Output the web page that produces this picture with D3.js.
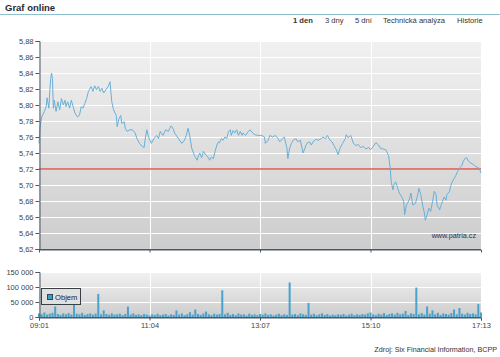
<!DOCTYPE html>
<html><head><meta charset="utf-8">
<script src="https://cdn.jsdelivr.net/npm/d3@7"></script>
<style>
body{margin:0;background:#fff;}
svg{display:block;font-family:"Liberation Sans",Arial,sans-serif;}
</style></head><body>
<svg id="c" width="500" height="357"></svg>
<script>
// minutes after 09:01 and price
const priceMinutes = [0,1,3,6,8,9,11,12,13,14,15,16,17,19,21,23,25,27,29,30,32,34,36,38,40,43,45,47,49,51,53,55,56,58,60,62,64,66,68,70,72,75,77,79,80,81,83,86,87,89,91,92,95,96,98,101,104,107,109,112,115,117,118,120,122,125,128,131,133,135,138,141,144,147,149,151,154,157,159,162,164,166,168,170,173,176,177,179,181,183,186,188,190,192,194,196,198,200,201,203,205,207,209,211,213,214,216,218,220,222,224,226,227,230,233,235,237,240,244,248,251,252,255,257,260,263,266,268,271,273,276,277,279,281,283,286,288,291,292,294,296,298,301,303,305,308,311,314,316,319,321,324,326,329,331,333,335,338,341,342,344,347,350,353,355,358,361,364,367,369,372,375,378,380,383,386,389,391,392,394,395,397,399,401,404,406,407,409,412,414,416,419,421,423,425,427,429,430,432,434,436,438,440,442,443,446,447,449,451,453,454,457,458,460,462,464,466,468,471,472,474,476,478,480,483,485,488,490,492];
const priceValues = [5.752,5.771,5.785,5.792,5.798,5.809,5.796,5.817,5.833,5.840,5.833,5.796,5.806,5.792,5.804,5.794,5.808,5.800,5.806,5.798,5.804,5.796,5.806,5.798,5.790,5.785,5.787,5.798,5.796,5.802,5.808,5.817,5.819,5.823,5.817,5.824,5.819,5.823,5.817,5.821,5.815,5.820,5.823,5.829,5.817,5.804,5.794,5.787,5.773,5.783,5.787,5.777,5.779,5.771,5.767,5.769,5.769,5.765,5.758,5.752,5.748,5.747,5.756,5.769,5.760,5.752,5.758,5.762,5.758,5.767,5.762,5.769,5.767,5.774,5.771,5.765,5.760,5.755,5.752,5.756,5.762,5.771,5.760,5.746,5.737,5.731,5.735,5.740,5.734,5.742,5.737,5.735,5.731,5.735,5.733,5.742,5.750,5.754,5.753,5.758,5.756,5.760,5.758,5.767,5.769,5.762,5.768,5.765,5.769,5.762,5.767,5.762,5.765,5.762,5.767,5.769,5.766,5.763,5.762,5.762,5.760,5.752,5.756,5.762,5.760,5.762,5.758,5.754,5.758,5.760,5.746,5.733,5.746,5.752,5.756,5.758,5.754,5.756,5.750,5.740,5.746,5.752,5.754,5.750,5.754,5.757,5.756,5.758,5.760,5.758,5.762,5.756,5.754,5.748,5.744,5.738,5.746,5.752,5.758,5.763,5.759,5.762,5.752,5.749,5.751,5.747,5.748,5.745,5.747,5.744,5.748,5.753,5.750,5.746,5.745,5.744,5.737,5.721,5.704,5.694,5.700,5.704,5.697,5.690,5.685,5.679,5.663,5.675,5.681,5.690,5.675,5.677,5.685,5.696,5.688,5.675,5.665,5.656,5.663,5.671,5.667,5.679,5.692,5.688,5.675,5.669,5.673,5.679,5.685,5.681,5.688,5.692,5.698,5.704,5.708,5.712,5.717,5.721,5.725,5.729,5.733,5.734,5.730,5.728,5.726,5.724,5.722,5.721,5.715];
// volume every 3 minutes
const volumeStep = 3;
const volumeValues = [12000,9000,15000,8000,11000,14000,35000,10000,7000,12000,
9000,13000,8000,41000,11000,9000,14000,7000,10000,12000,
8000,11000,77000,9000,22000,10000,7000,12000,8000,9000,
11000,6000,10000,35000,8000,12000,7000,9000,6000,10000,
8000,5000,9000,7000,11000,6000,8000,10000,5000,9000,
7000,22000,8000,12000,6000,9000,16000,8000,25000,10000,
7000,12000,18000,9000,6000,11000,8000,10000,89000,9000,
14000,7000,10000,6000,12000,8000,9000,5000,11000,7000,
9000,6000,10000,8000,12000,7000,9000,5000,8000,11000,
6000,9000,7000,115000,8000,10000,6000,12000,9000,7000,
47000,8000,11000,6000,9000,12000,7000,10000,5000,8000,
6000,9000,7000,10000,5000,8000,11000,6000,9000,7000,
10000,8000,12000,15000,9000,6000,11000,8000,13000,7000,
10000,12000,8000,14000,9000,11000,20000,7000,12000,10000,
98000,9000,13000,8000,35000,11000,22000,9000,14000,7000,
12000,10000,8000,13000,25000,9000,30000,11000,8000,14000,
10000,12000,9000,43000,15000];
const timeTickLabels = ["09:01","11:04","13:07","15:10","17:13"];
const timeTickMinutes = [0,123,246,369,492];
const priceTicks = [5.62,5.64,5.66,5.68,5.70,5.72,5.74,5.76,5.78,5.80,5.82,5.84,5.86,5.88];
const volumeTicks = [0,50000,100000,150000];
const referencePrice = 5.72;
const navItems = ["1 den","3 dny","5 dní","Technická analýza","Historie"];

const svg = d3.select("#c");
const L = 39, R = 481;
const x = d3.scaleLinear().domain([0,492]).range([L,R]);
const y = d3.scaleLinear().domain([5.62,5.88]).range([249,41]);
const yv = d3.scaleLinear().domain([0,150000]).range([317,272]);
const fmtP = d => d3.format(".2f")(d).replace(".", ",");
const loc = d3.formatLocale({decimal:",",thousands:"\u00a0",grouping:[3],currency:["",""]});
const fmtV = loc.format(",d");

const defs = svg.append("defs");
const g1 = defs.append("linearGradient").attr("id","bg").attr("x1",0).attr("y1",0).attr("x2",0).attr("y2",1);
g1.append("stop").attr("offset","0%").attr("stop-color","#f1f1f1");
g1.append("stop").attr("offset","100%").attr("stop-color","#cdcdcd");

// header
svg.append("text").attr("x",5).attr("y",11).attr("font-weight","bold").attr("font-size",9.5).attr("fill","#1f2a36").text("Graf online");
svg.append("rect").attr("x",0).attr("y",14).attr("width",500).attr("height",1).attr("fill","#8dbfce");
const navX = [293,325,355,383,457];
svg.selectAll("text.nav").data(navItems).join("text").attr("class","nav")
  .attr("x",(d,i)=>navX[i]).attr("y",23).attr("font-size",7.6)
  .attr("font-weight",(d,i)=>i===0?"bold":"normal").attr("fill","#333").text(d=>d);

// main plot
svg.append("rect").attr("x",L).attr("y",41).attr("width",R-L).attr("height",208).attr("fill","url(#bg)");
svg.append("g").selectAll("line").data(priceTicks.slice(1)).join("line")
  .attr("x1",L).attr("x2",R).attr("y1",d=>Math.round(y(d))+0.5).attr("y2",d=>Math.round(y(d))+0.5)
  .attr("stroke","#fff").attr("stroke-width",1);
svg.append("g").selectAll("line").data(timeTickMinutes.slice(1,4)).join("line")
  .attr("x1",d=>Math.round(x(d))+0.5).attr("x2",d=>Math.round(x(d))+0.5).attr("y1",41).attr("y2",249)
  .attr("stroke","#fff").attr("stroke-width",1);
svg.append("rect").attr("x",L).attr("width",R-L)
  .attr("y",y(referencePrice)-0.75).attr("height",1.5)
  .attr("fill","#de5a4e");
const pts = priceMinutes.map((m,i)=>[m,priceValues[i]]);
svg.append("path").datum(pts).attr("fill","none").attr("stroke","#68b0d8").attr("stroke-width",1)
  .attr("stroke-linejoin","round")
  .attr("d", d3.line().x(d=>x(d[0])).y(d=>y(d[1])));
svg.append("text").attr("x",476).attr("y",238).attr("text-anchor","end").attr("font-size",7.2).attr("fill","#2b3550").text("www.patria.cz");

svg.append("g").attr("transform",`translate(${L+0.5},0)`)
  .call(d3.axisLeft(y).tickValues(priceTicks).tickFormat(fmtP).tickSize(4).tickPadding(2));
const xAxisTop = svg.append("g").attr("transform",`translate(0,249.5)`)
  .call(d3.axisBottom(x).tickValues(timeTickMinutes.slice(1,4)).tickFormat("").tickSize(3));
xAxisTop.append("line").attr("x1",L).attr("x2",R).attr("stroke","#4b5866");

// volume plot
svg.append("rect").attr("x",L).attr("y",272).attr("width",R-L).attr("height",45).attr("fill","url(#bg)");
svg.append("g").selectAll("line").data(volumeTicks.slice(1)).join("line")
  .attr("x1",L).attr("x2",R).attr("y1",d=>Math.round(yv(d))+0.5).attr("y2",d=>Math.round(yv(d))+0.5)
  .attr("stroke","#fff");
svg.append("g").selectAll("line").data(timeTickMinutes.slice(1,4)).join("line")
  .attr("x1",d=>Math.round(x(d))+0.5).attr("x2",d=>Math.round(x(d))+0.5).attr("y1",272).attr("y2",317)
  .attr("stroke","#fff");
const bw = Math.max(1,(x(volumeStep)-x(0))*0.75);
svg.append("g").selectAll("rect").data(volumeValues).join("rect")
  .attr("x",(d,i)=>x(i*volumeStep)-bw/2).attr("width",bw)
  .attr("y",d=>yv(d)).attr("height",d=>yv(0)-yv(d)).attr("fill","#4aa3cc");
svg.append("g").attr("transform",`translate(${L+0.5},0)`)
  .call(d3.axisLeft(yv).tickValues(volumeTicks).tickFormat(fmtV).tickSize(4).tickPadding(2));
const xAxis = svg.append("g").attr("transform",`translate(0,317.5)`)
  .call(d3.axisBottom(x).tickValues(timeTickMinutes).tickFormat((d,i)=>timeTickLabels[i]).tickSize(3).tickPadding(2));
xAxis.append("line").attr("x1",L).attr("x2",R).attr("stroke","#4b5866");

// legend
const lg = svg.append("g");
lg.append("rect").attr("x",41.5).attr("y",288.5).attr("width",39).attr("height",16).attr("fill","#e0e0e0").attr("stroke","#3a3f45");
lg.append("rect").attr("x",47.5).attr("y",294.5).attr("width",5).attr("height",5).attr("fill","#3d9dc9").attr("stroke","#2a4a5a");
lg.append("text").attr("x",55).attr("y",300).attr("font-size",7.6).attr("fill","#222").text("Objem");

svg.append("text").attr("x",497).attr("y",352).attr("text-anchor","end").attr("font-size",7.2).attr("fill","#333")
  .text("Zdroj: Six Financial Information, BCPP");

svg.selectAll(".domain").attr("stroke","#4b5866");
svg.selectAll(".tick line").attr("stroke","#4b5866");
svg.selectAll(".tick text").attr("fill","#444").attr("font-size",7.5).attr("font-family","'Liberation Sans',Arial,sans-serif");
</script>
</body></html>
